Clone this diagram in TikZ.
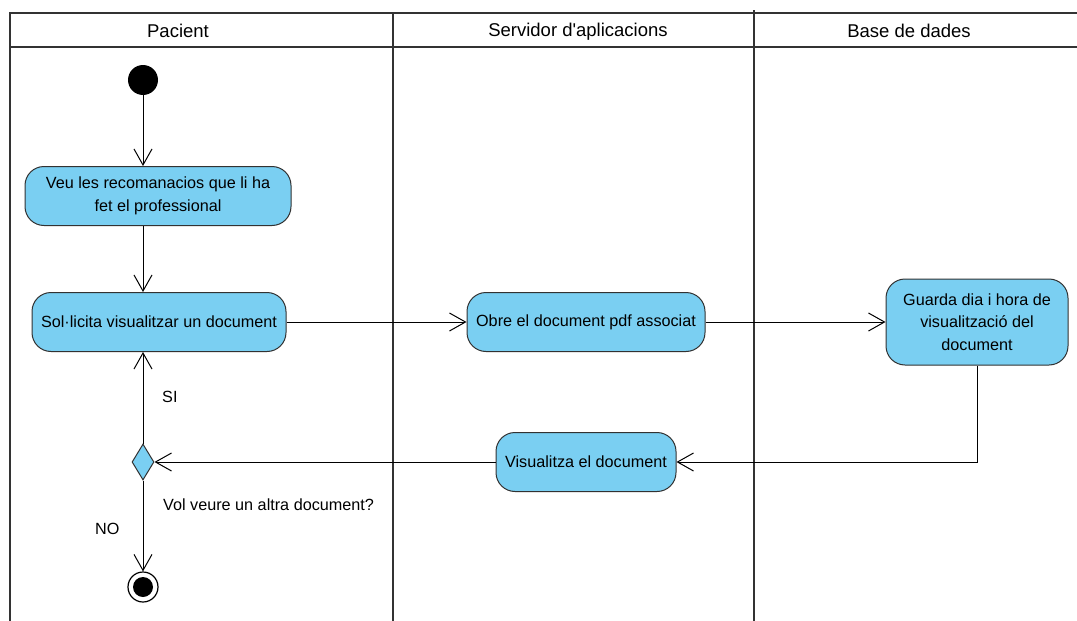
\documentclass[tikz,border=0pt]{standalone}
\usepackage{fontspec}
\setmainfont{Liberation Sans}
\usetikzlibrary{arrows.meta,shapes.geometric}
\definecolor{actfill}{RGB}{122,207,242}
\definecolor{actdraw}{RGB}{50,50,50}
\tikzset{
  activity/.style={draw=actdraw, fill=actfill, rounded corners=19pt, line width=1pt,
    align=center, font=\fontsize{16.2}{22.5}\selectfont, inner sep=0pt},
  flow/.style={line width=1pt, -{Straight Barb[length=16pt,width=18pt,line width=1pt]}},
  lane/.style={line width=1.2pt, draw=black!80},
  lbl/.style={font=\fontsize{16.2}{18}\selectfont, anchor=west, inner sep=0pt},
  head/.style={font=\fontsize{18.5}{20}\selectfont, inner sep=0pt, anchor=base}
}
\begin{document}
\begin{tikzpicture}[x=1pt,y=-1pt]
\useasboundingbox (0,0) rectangle (1077,621);
% swimlanes
\draw[lane] (10,621) -- (10,13) -- (1077,13);
\draw[lane] (10,47) -- (1077,47);
\draw[lane] (393,13) -- (393,621);
\draw[lane] (754,10) -- (754,621);
\node[head] (hp) at (178,37) {Pacient};
\node[head] (hs) at (578,36) {Servidor d\textquotesingle aplicacions};
\node[head] (hb) at (909,37) {Base de dades};
% nodes
\node[circle, fill=black, minimum size=30pt, inner sep=0pt] (start) at (143,80) {};
\node[activity, minimum width=266pt, minimum height=59pt] (veu) at (158,196)
  {Veu les recomanacios que li ha\\fet el professional};
\node[activity, minimum width=254pt, minimum height=59pt] (sol) at (159,322)
  {Sol·licita visualitzar un document};
\node[activity, minimum width=238pt, minimum height=59pt] (obre) at (586,322)
  {Obre el document pdf associat};
\node[activity, minimum width=182pt, minimum height=86pt] (guarda) at (977,322)
  {Guarda dia i hora de\\visualització del\\document};
\node[activity, minimum width=180pt, minimum height=59pt] (vis) at (586,462)
  {Visualitza el document};
\node[diamond, draw=actdraw, fill=actfill, line width=1pt, minimum width=22pt,
  minimum height=36pt, inner sep=0pt, aspect=0.6] (dec) at (143,462) {};
\node[circle, draw=black, line width=1.2pt, minimum size=30pt, inner sep=0pt] (end) at (143,587) {};
\node[circle, fill=black, minimum size=20pt, inner sep=0pt] (endin) at (143,587) {};
% flows
\draw[flow] (start) -- (veu.north -| start);
\draw[flow] (veu.south -| start) -- (sol.north -| start);
\draw[flow] (sol.east) -- (obre.west);
\draw[flow] (obre.east) -- (guarda.west);
\coordinate (corner) at (977,462);
\draw[flow] (guarda.south) -- (corner) -- (vis.east);
\draw[flow] (vis.west) -- (dec.east);
\draw[flow] (dec.north) -- (sol.south -| dec);
\draw[flow] (dec.south) -- (end.north);
% labels
\node[lbl] (si) at (162,397) {SI};
\node[lbl] (no) at (95,529) {NO};
\node[lbl] (q) at (163,505) {Vol veure un altra document?};
\end{tikzpicture}
\end{document}
